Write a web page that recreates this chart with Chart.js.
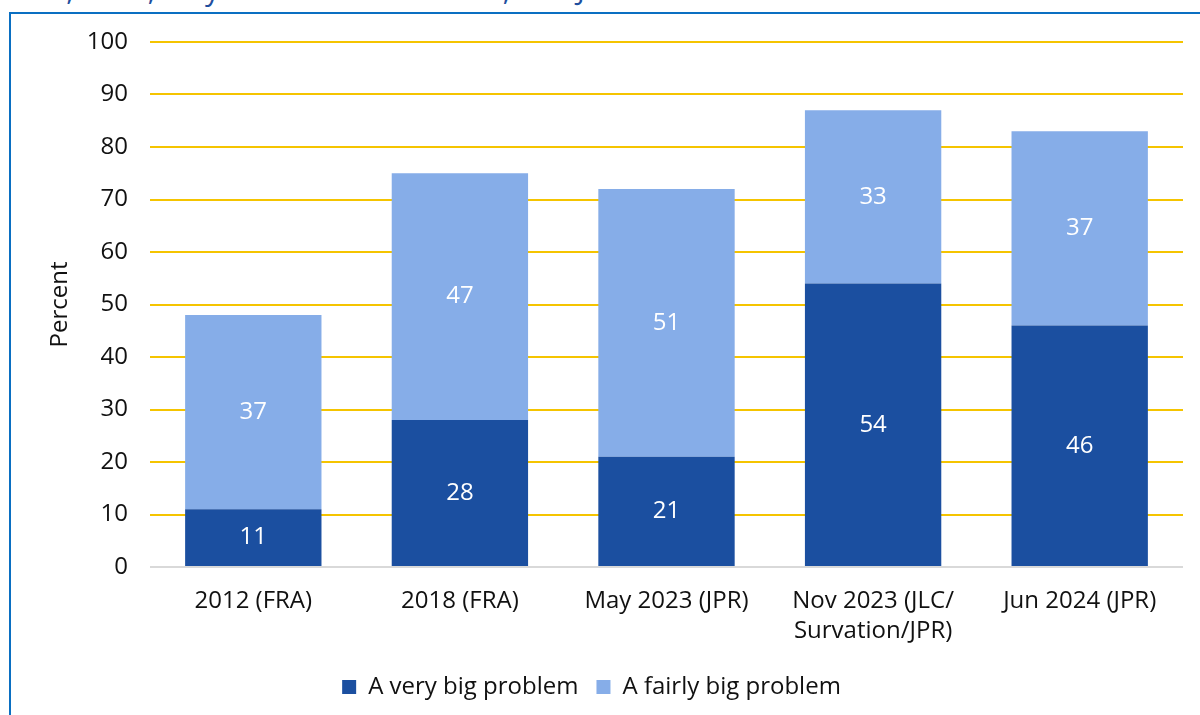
<!DOCTYPE html>
<html>
<head>
<meta charset="utf-8">
<script src="https://cdn.jsdelivr.net/npm/chart.js@4"></script>
<style>
  body { margin: 0; background: #fff; overflow: hidden; }
  #page { position: relative; width: 1200px; height: 715px; overflow: hidden; }
  #heading {
    position: absolute; left: 0; top: -31px; margin: 0;
    font: 29px 'Open Sans', sans-serif; color: #1f4f9e; white-space: nowrap;
  }
  #frame {
    position: absolute; left: 9px; top: 12px; width: 1300px; height: 800px;
    border-left: 2px solid #0a6fc2; border-top: 2px solid #0a6fc2;
  }
  #chart { position: absolute; left: 0; top: 0; }
</style>
</head>
<body>
<div id="page">
  <p id="heading">2012, 2018, May and November 2023, and June 2024</p>
  <div id="frame"></div>
  <canvas id="chart" width="1200" height="715"></canvas>
</div>
<script>
// survey rounds
const categories = [
  '2012 (FRA)',
  '2018 (FRA)',
  'May 2023 (JPR)',
  ['Nov 2023 (JLC/', 'Survation/JPR)'],
  'Jun 2024 (JPR)',
];
const veryBig = [11, 28, 21, 54, 46];
const fairlyBig = [37, 47, 51, 33, 37];
const yTicks = [0, 10, 20, 30, 40, 50, 60, 70, 80, 90, 100];

const FONT = "'Open Sans', sans-serif";
const SIZE = 24;

// white value labels centred in each segment
const segmentLabels = {
  id: 'segmentLabels',
  afterDatasetsDraw(chart) {
    const ctx = chart.ctx;
    ctx.save();
    ctx.fillStyle = '#ffffff';
    ctx.font = SIZE + 'px ' + FONT;
    ctx.textAlign = 'center';
    ctx.textBaseline = 'middle';
    chart.data.datasets.forEach((ds, i) => {
      chart.getDatasetMeta(i).data.forEach((bar, j) => {
        const y = (bar.y + bar.base) / 2;
        ctx.fillText(String(ds.data[j]), bar.x, y);
      });
    });
    ctx.restore();
  },
};

new Chart(document.getElementById('chart'), {
  type: 'bar',
  data: {
    labels: categories,
    datasets: [
      {
        label: 'A very big problem',
        data: veryBig,
        backgroundColor: '#1b4fa0',
        borderWidth: 0,
      },
      {
        label: 'A fairly big problem',
        data: fairlyBig,
        backgroundColor: '#86ade8',
        borderWidth: 0,
      },
    ],
  },
  options: {
    responsive: false,
    animation: false,
    barPercentage: 0.66,
    categoryPercentage: 1,
    layout: { padding: { top: 42, right: 17, bottom: 6, left: 0 } },
    plugins: {
      legend: {
        position: 'bottom',
        labels: {
          boxWidth: 14,
          boxHeight: 14,
          padding: 18,
          color: '#111',
          font: { family: FONT, size: SIZE },
        },
      },
      tooltip: { enabled: false },
    },
    scales: {
      x: {
        stacked: true,
        grid: { display: false },
        border: { display: false },
        ticks: {
          color: '#111',
          padding: 11,
          maxRotation: 0,
          font: { family: FONT, size: SIZE, lineHeight: 1.25 },
        },
      },
      y: {
        stacked: true,
        min: 0,
        max: 100,
        afterBuildTicks: (scale) => {
          scale.ticks = yTicks.map((v) => ({ value: v }));
        },
        afterFit: (scale) => {
          scale.width = 150;
        },
        grid: {
          drawTicks: false,
          lineWidth: 2,
          color: (c) => (c.tick && c.tick.value === 0 ? '#d9d9d9' : '#f5c400'),
        },
        border: { display: false },
        ticks: {
          color: '#111',
          padding: 22,
          font: { family: FONT, size: SIZE },
        },
        title: {
          display: true,
          text: 'Percent',
          color: '#111',
          padding: { top: 46, bottom: 0 },
          font: { family: FONT, size: SIZE },
        },
      },
    },
  },
  plugins: [segmentLabels],
});
</script>
</body>
</html>
